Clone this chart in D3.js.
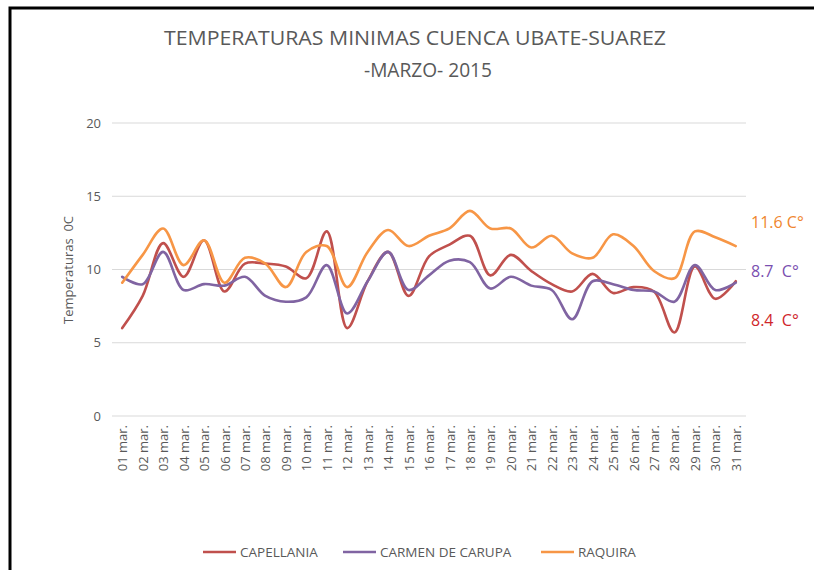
<!DOCTYPE html>
<html>
<head>
<meta charset="utf-8">
<script src="https://cdnjs.cloudflare.com/ajax/libs/d3/7.8.5/d3.min.js"></script>
<style>
  body { margin: 0; background: #fff; }
  text { font-family: "Open Sans", "Liberation Sans", sans-serif; }
</style>
</head>
<body>
<div id="chart"></div>
<script>
// datos
var days = ["01 mar.", "02 mar.", "03 mar.", "04 mar.", "05 mar.", "06 mar.", "07 mar.", "08 mar.",
    "09 mar.", "10 mar.", "11 mar.", "12 mar.", "13 mar.", "14 mar.", "15 mar.", "16 mar.",
    "17 mar.", "18 mar.", "19 mar.", "20 mar.", "21 mar.", "22 mar.", "23 mar.", "24 mar.",
    "25 mar.", "26 mar.", "27 mar.", "28 mar.", "29 mar.", "30 mar.", "31 mar."];

var capellania = [6.0, 8.2, 11.8, 9.5, 12.0, 8.5, 10.4, 10.4, 10.2, 9.4, 12.6, 6.0, 9.2, 11.2, 8.2, 10.9,
    11.7, 12.3, 9.6, 11.0, 9.9, 9.0, 8.5, 9.7, 8.4, 8.8, 8.5, 5.7, 10.2, 8.0, 9.2];
var carmen = [9.5, 9.0, 11.2, 8.6, 9.0, 8.9, 9.5, 8.2, 7.8, 8.1, 10.3, 7.0, 9.2, 11.2, 8.6, 9.6,
    10.6, 10.5, 8.7, 9.5, 8.9, 8.6, 6.6, 9.2, 9.0, 8.6, 8.5, 7.8, 10.3, 8.6, 9.1];
var raquira = [9.1, 11.0, 12.8, 10.3, 12.0, 9.1, 10.8, 10.4, 8.8, 11.2, 11.6, 8.8, 11.2, 12.7, 11.6, 12.3,
    12.8, 14.0, 12.8, 12.8, 11.5, 12.3, 11.1, 10.8, 12.4, 11.6, 9.9, 9.4, 12.6, 12.2, 11.6];

var yTicks = [0, 5, 10, 15, 20];
var seriesNames = ["CAPELLANIA", "CARMEN DE CARUPA", "RAQUIRA"];
var seriesColors = ["#c0504d", "#8064a2", "#f79646"];
var endLabels = ["8.4\u00a0 C°", "8.7\u00a0 C°", "11.6 C°"];
var endLabelColors = ["#d0262b", "#7a4fb0", "#f0862e"];

var width = 814, height = 571;
var margin = {top: 123, right: 68, bottom: 155, left: 112};

var svg = d3.select("#chart").append("svg").attr("width", width).attr("height", height);

// marco negro
svg.append("path")
    .attr("d", "M10,570 L10,8 L814,8")
    .attr("fill", "none")
    .attr("stroke", "#000")
    .attr("stroke-width", 3);

// titulo
svg.append("text")
    .attr("x", 415).attr("y", 45)
    .attr("text-anchor", "middle")
    .attr("font-size", "20px")
    .attr("fill", "#595959")
    .attr("textLength", 502)
    .attr("lengthAdjust", "spacingAndGlyphs")
    .text("TEMPERATURAS MINIMAS CUENCA UBATE-SUAREZ");
svg.append("text")
    .attr("x", 428).attr("y", 77)
    .attr("text-anchor", "middle")
    .attr("font-size", "20px")
    .attr("fill", "#595959")
    .attr("textLength", 128)
    .attr("lengthAdjust", "spacingAndGlyphs")
    .text("-MARZO- 2015");

var xScale = d3.scalePoint()
    .domain(days)
    .range([margin.left, width - margin.right])
    .padding(0.5);

var yScale = d3.scaleLinear()
    .domain([0, 20])
    .range([height - margin.bottom, margin.top]);

// lineas de la rejilla
svg.append("g")
    .selectAll("line")
    .data(yTicks)
    .enter()
    .append("line")
    .attr("x1", margin.left)
    .attr("x2", width - margin.right)
    .attr("y1", d => yScale(d))
    .attr("y2", d => yScale(d))
    .attr("stroke", "#d9d9d9")
    .attr("stroke-width", 1);

var axisy = d3.axisLeft(yScale).tickValues(yTicks).tickSize(0).tickPadding(11);
var gy = svg.append("g")
    .attr("transform", "translate(" + margin.left + ",0)")
    .call(axisy);
gy.select(".domain").remove();
gy.selectAll("text")
    .attr("fill", "#595959")
    .attr("font-size", "13px")
    .attr("font-family", "Open Sans, sans-serif");

svg.append("text")
    .attr("transform", "rotate(-90)")
    .attr("x", -270)
    .attr("y", 73)
    .attr("text-anchor", "middle")
    .attr("font-size", "13px")
    .attr("fill", "#595959")
    .text("Temperaturas\u00a0 0C");

var axisx = d3.axisBottom(xScale).tickSize(0).tickPadding(0);
var gx = svg.append("g")
    .attr("transform", "translate(0," + (height - margin.bottom) + ")")
    .call(axisx);
gx.select(".domain").remove();
gx.selectAll("text")
    .attr("fill", "#595959")
    .attr("font-size", "13px")
    .attr("font-family", "Open Sans, sans-serif")
    .attr("text-anchor", "end")
    .attr("transform", "rotate(-90)")
    .attr("x", -9)
    .attr("y", 0)
    .attr("dy", "0.35em");

// lineas suavizadas
var curveFunc = d3.line()
    .curve(d3.curveCatmullRom.alpha(0.5))
    .x((d, i) => xScale(days[i]))
    .y(d => yScale(d));

[capellania, carmen, raquira].forEach(function(s, k) {
    svg.append("path")
        .attr("d", curveFunc(s))
        .attr("fill", "none")
        .attr("stroke", seriesColors[k])
        .attr("stroke-width", 2.6)
        .attr("stroke-linecap", "round");
});

// etiquetas del final
var endY = [320, 271, 222];
endLabels.forEach(function(t, k) {
    svg.append("text")
        .attr("x", 751)
        .attr("y", endY[k] + 6)
        .attr("font-size", "16px")
        .attr("fill", endLabelColors[k])
        .text(t);
});

// leyenda
var legendX = [203, 343, 541];
seriesNames.forEach(function(name, k) {
    var g = svg.append("g").attr("transform", "translate(" + legendX[k] + ",552)");
    g.append("line")
        .attr("x1", 0).attr("x2", 33)
        .attr("stroke", seriesColors[k])
        .attr("stroke-width", 2.6);
    g.append("text")
        .attr("x", 37)
        .attr("dy", "0.35em")
        .attr("font-size", "13.5px")
        .attr("fill", "#595959")
        .text(name);
});
</script>
</body>
</html>
